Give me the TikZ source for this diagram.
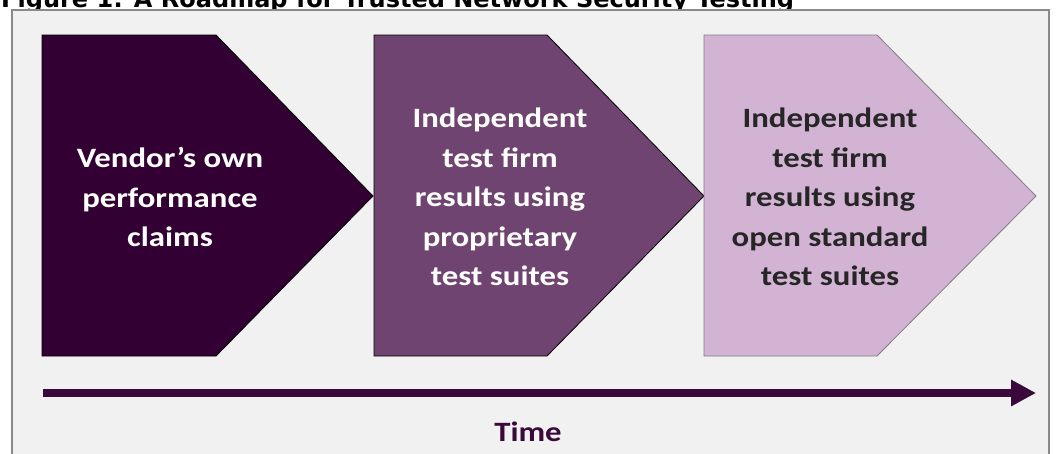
\documentclass[tikz,border=0pt]{standalone}
\usepackage{fontspec}
\newfontfamily\boxfont[FakeStretch=1.17]{Carlito}
\newfontfamily\titlefont{DejaVu Sans}
\usetikzlibrary{arrows.meta}
\definecolor{panelbg}{HTML}{F1F1F1}
\definecolor{framegray}{HTML}{8A8A8A}
\definecolor{stageone}{HTML}{330033}
\definecolor{stagetwo}{HTML}{704470}
\definecolor{stagethree}{HTML}{D3B3D3}
\definecolor{stageline}{HTML}{7F7F7F}
\definecolor{timeline}{HTML}{3A083A}
\definecolor{darktext}{HTML}{262626}
\tikzset{
  chevron/.style={line width=0.8pt, line join=miter},
  stagetext/.style={align=center, inner sep=0pt,
    font=\boxfont\bfseries\fontsize{28}{39.5}\selectfont},
}
\begin{document}
\begin{tikzpicture}[x=1pt,y=-1pt]
\useasboundingbox (0,0) rectangle (1059,453);
\fill[white] (0,0) rectangle (1059,453);
% caption above the panel
\node[anchor=base west, inner sep=0pt,
      font=\titlefont\bfseries\fontsize{24}{28}\selectfont] (title) at (1,7)
  {Figure 1: A Roadmap for Trusted Network Security Testing};
% panel
\draw[framegray, line width=2pt, fill=panelbg] (12,10) rectangle (1049,475);
% three stages
\draw[chevron, fill=stageone, draw=black]
  (42,35) -- (216,35) -- (373,196) -- (216,356) -- (42,356) -- cycle;
\draw[chevron, fill=stagetwo, draw=black]
  (374,35) -- (547,35) -- (704,196) -- (547,356) -- (374,356) -- cycle;
\draw[chevron, fill=stagethree, draw=stageline]
  (704,35) -- (877,35) -- (1036,196) -- (877,356) -- (704,356) -- cycle;
\node[stagetext, text=white] (vendor) at (170,197)
  {Vendor’s own\\performance\\claims};
\node[stagetext, text=white] (proprietary) at (500,197)
  {Independent\\test firm\\results using\\proprietary\\test suites};
\node[stagetext, text=darktext] (openstd) at (830,197)
  {Independent\\test firm\\results using\\open standard\\test suites};
% time axis
\coordinate (tstart) at (43,393);
\coordinate (tend) at (1036,393);
\draw[timeline, line width=8pt, -{Triangle[length=25pt,width=25pt]}] (tstart) -- (tend);
\node[inner sep=0pt, text=timeline,
      font=\boxfont\bfseries\fontsize{28}{34}\selectfont] (time) at (528,432) {Time};
\end{tikzpicture}
\end{document}
